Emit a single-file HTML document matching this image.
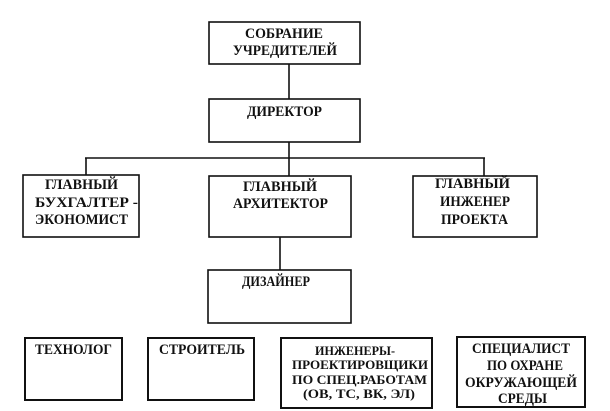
<!DOCTYPE html>
<html>
<head>
<meta charset="utf-8">
<style>
html,body{margin:0;padding:0;background:#fff;}
svg{display:block;}
text{font-family:"Liberation Serif","DejaVu Serif",serif;font-weight:bold;fill:#111;}
</style>
</head>
<body>
<svg width="610" height="411" viewBox="0 0 610 411" xmlns="http://www.w3.org/2000/svg">
<g fill="none" stroke="#111" stroke-width="1.6">
  <!-- top boxes -->
  <rect x="209" y="22" width="151" height="42"/>
  <rect x="209" y="99" width="151" height="43"/>
  <line x1="289" y1="64" x2="289" y2="99"/>
  <line x1="289" y1="142" x2="289" y2="158"/>
  <!-- horizontal bus -->
  <line x1="85" y1="158" x2="485" y2="158"/>
  <line x1="86" y1="158" x2="86" y2="175"/>
  <line x1="289" y1="158" x2="289" y2="176"/>
  <line x1="484" y1="158" x2="484" y2="176"/>
  <!-- second level -->
  <rect x="23" y="175" width="116" height="62"/>
  <rect x="209" y="176" width="142" height="61"/>
  <rect x="413" y="176" width="124" height="61"/>
  <line x1="280" y1="237" x2="280" y2="270"/>
  <rect x="208" y="270" width="143" height="53"/>
</g>
<g fill="none" stroke="#111" stroke-width="2">
  <rect x="25" y="338" width="97" height="62"/>
  <rect x="148" y="338" width="106" height="62"/>
  <rect x="281" y="338" width="151" height="70"/>
  <rect x="457" y="337" width="128" height="70"/>
</g>
<g font-size="15">
  <text x="245" y="38" textLength="78" lengthAdjust="spacingAndGlyphs">СОБРАНИЕ</text>
  <text x="233" y="55" textLength="104" lengthAdjust="spacingAndGlyphs">УЧРЕДИТЕЛЕЙ</text>
  <text x="247" y="116" textLength="75" lengthAdjust="spacingAndGlyphs">ДИРЕКТОР</text>

  <text x="45" y="189" textLength="73" lengthAdjust="spacingAndGlyphs">ГЛАВНЫЙ</text>
  <text x="35" y="207" textLength="103" lengthAdjust="spacingAndGlyphs">БУХГАЛТЕР -</text>
  <text x="35" y="224" textLength="93" lengthAdjust="spacingAndGlyphs">ЭКОНОМИСТ</text>

  <text x="243" y="191" textLength="74" lengthAdjust="spacingAndGlyphs">ГЛАВНЫЙ</text>
  <text x="233" y="208" textLength="95" lengthAdjust="spacingAndGlyphs">АРХИТЕКТОР</text>

  <text x="435" y="188" textLength="75" lengthAdjust="spacingAndGlyphs">ГЛАВНЫЙ</text>
  <text x="440" y="206" textLength="70" lengthAdjust="spacingAndGlyphs">ИНЖЕНЕР</text>
  <text x="441" y="224" textLength="67" lengthAdjust="spacingAndGlyphs">ПРОЕКТА</text>

  <text x="242" y="286" textLength="68" lengthAdjust="spacingAndGlyphs">ДИЗАЙНЕР</text>

  <text x="35" y="354" textLength="77" lengthAdjust="spacingAndGlyphs">ТЕХНОЛОГ</text>
  <text x="159" y="354" textLength="86" lengthAdjust="spacingAndGlyphs">СТРОИТЕЛЬ</text>

  <text x="472" y="353" textLength="98" lengthAdjust="spacingAndGlyphs">СПЕЦИАЛИСТ</text>
  <text x="487" y="370" textLength="76" lengthAdjust="spacingAndGlyphs">ПО ОХРАНЕ</text>
  <text x="465" y="387" textLength="112" lengthAdjust="spacingAndGlyphs">ОКРУЖАЮЩЕЙ</text>
  <text x="498" y="403" textLength="49" lengthAdjust="spacingAndGlyphs">СРЕДЫ</text>
</g>
<g font-size="13">
  <text x="315" y="355" textLength="80" lengthAdjust="spacingAndGlyphs">ИНЖЕНЕРЫ-</text>
  <text x="292" y="369" textLength="136" lengthAdjust="spacingAndGlyphs">ПРОЕКТИРОВЩИКИ</text>
  <text x="292" y="384" textLength="135" lengthAdjust="spacingAndGlyphs">ПО СПЕЦ.РАБОТАМ</text>
  <text x="303" y="398" textLength="112" lengthAdjust="spacingAndGlyphs">(ОВ, ТС, ВК, ЭЛ)</text>
</g>
</svg>
</body>
</html>
